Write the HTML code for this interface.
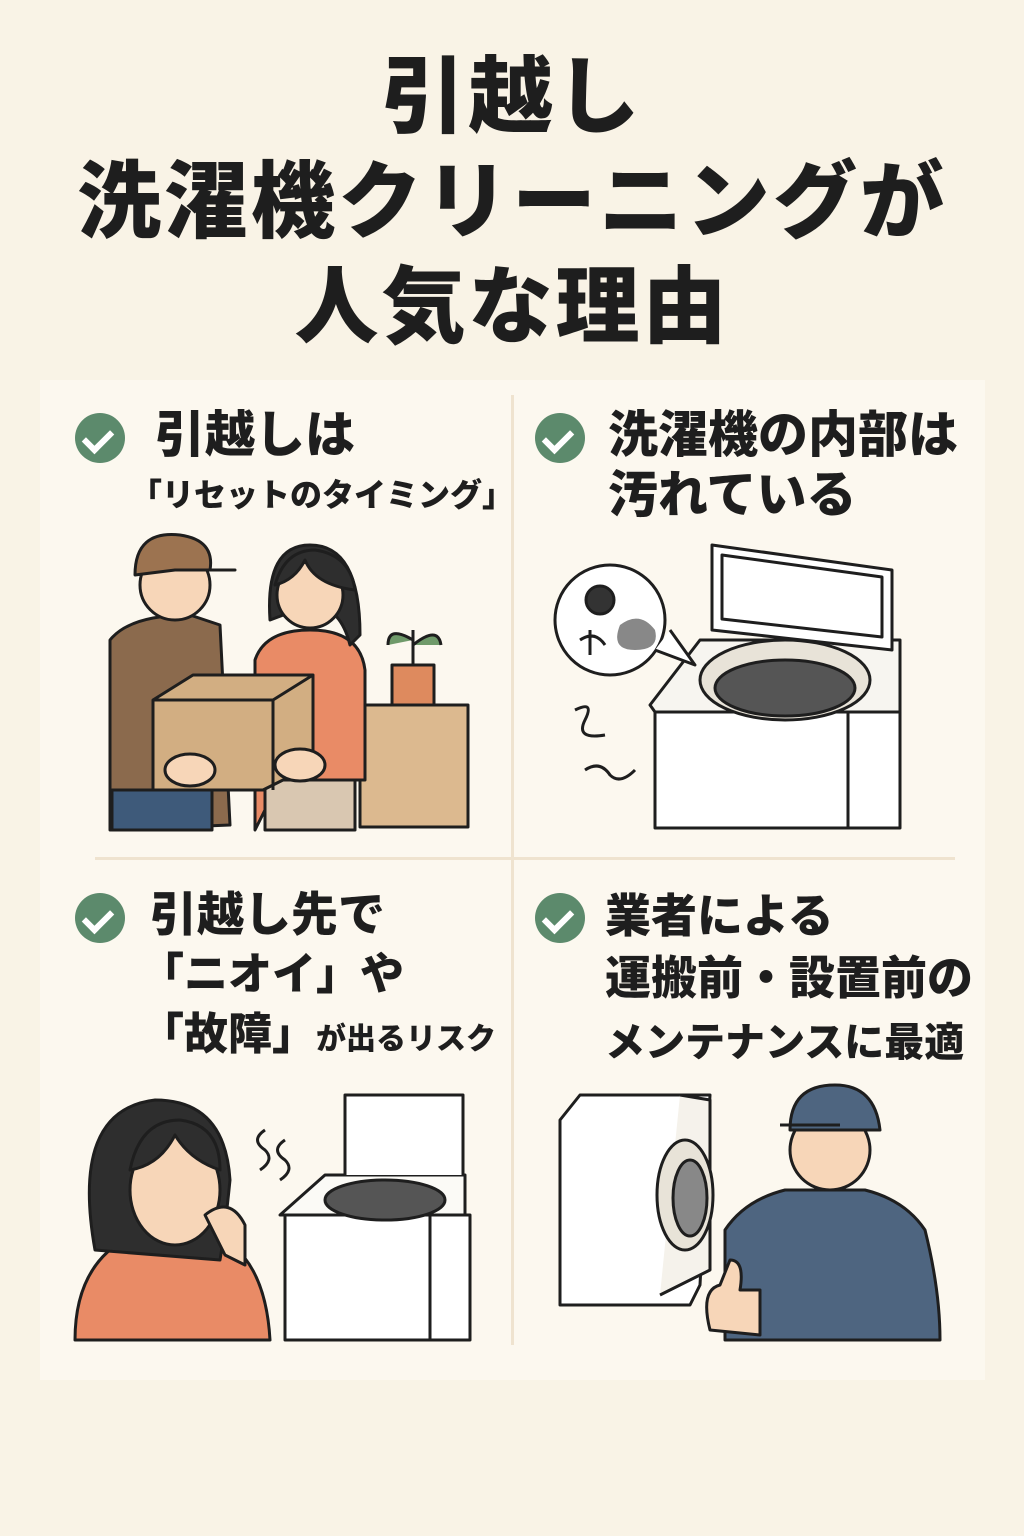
<!DOCTYPE html>
<html><head><meta charset="utf-8"><style>
html,body{margin:0;padding:0}
body{width:1024px;height:1536px;background:#f9f3e6;position:relative;overflow:hidden;font-family:"Liberation Sans","Noto Sans CJK JP",sans-serif;color:#1e1e1e}
.t{position:absolute;left:0;width:1024px;text-align:center;font-weight:900;font-size:84px;line-height:1;letter-spacing:3px}
.panel{position:absolute;left:40px;top:380px;width:945px;height:1000px;background:#fcf8ef}
.h{position:absolute;font-weight:900;font-size:50px;line-height:60px;white-space:nowrap}
.s{font-size:32px}
.ck{position:absolute;width:50px;height:50px;border-radius:50%;background:#5c8a6c}
.ck:after{content:"";position:absolute;left:14px;top:11px;width:12px;height:22px;border:solid #fff;border-width:0 6px 6px 0;transform:rotate(45deg)}
svg{position:absolute}
</style></head><body>
<div class="t" style="top:55px">引越し</div>
<div class="t" style="top:160px">洗濯機クリーニングが</div>
<div class="t" style="top:265px">人気な理由</div>
<div class="panel"></div>
<div style="position:absolute;left:511px;top:395px;width:3px;height:950px;background:#efe3cf"></div>
<div style="position:absolute;left:95px;top:857px;width:860px;height:3px;background:#efe3cf"></div>

<div class="ck" style="left:75px;top:413px"></div>
<div class="h" style="left:155px;top:405px">引越しは</div>
<div class="h s" style="left:130px;top:465px">「リセットのタイミング」</div>
<div class="ck" style="left:535px;top:413px"></div>
<div class="h" style="left:608px;top:405px">洗濯機の内部は<br>汚れている</div>
<div class="ck" style="left:75px;top:893px"></div>
<div class="h" style="left:150px;top:885px;font-size:47px">引越し先で</div>
<div class="h" style="left:140px;top:945px;font-size:44px">「ニオイ」や</div>
<div class="h" style="left:140px;top:1005px;font-size:44px">「故障」<span style="font-size:30px">が出るリスク</span></div>
<div class="ck" style="left:535px;top:893px"></div>
<div class="h" style="left:605px;top:885px;line-height:62px;font-size:46px">業者による<br>運搬前・設置前の<br><span style="font-size:40px">メンテナンスに最適</span></div>

<svg width="1024" height="1536" viewBox="0 0 1024 1536" style="left:0;top:0" stroke="#1e1e1e" stroke-width="3" stroke-linejoin="round">
<rect x="360" y="705" width="108" height="122" fill="#dcb98f"/>
<rect x="392" y="665" width="42" height="40" fill="#de8a5e"/>
<path d="M413 665 V630 M413 640 q-25 -15 -25 5 M413 645 q25 -20 28 0" fill="#6f9a6a"/>
<path d="M110 830 V640 q20 -25 80 -25 l30 10 l10 200z" fill="#8b6a4d"/>
<rect x="112" y="790" width="100" height="40" fill="#3e5a7a"/>
<circle cx="175" cy="585" r="35" fill="#f7d6b8"/>
<path d="M135 575 q0 -45 45 -40 q35 5 30 35 h25 l-60 0z" fill="#9c7350"/>
<path d="M255 830 V660 q10 -30 55 -30 q50 0 55 40 V780 H280z" fill="#e98b66"/>
<rect x="265" y="780" width="90" height="50" fill="#d9c7b1"/>
<path d="M270 620 q-5 -75 40 -75 q50 0 50 90 l-10 10 q-10 -40 -40 -40 z" fill="#2e2e2e"/>
<circle cx="310" cy="595" r="33" fill="#f7d6b8"/>
<path d="M275 585 q10 -35 40 -35 q35 5 40 40 q-40 -5 -50 -30 q-10 20 -30 25z" fill="#2e2e2e"/>
<path d="M153 700 l40 -25 h120 v90 l-50 25 h-110z" fill="#d2ae82"/>
<path d="M153 700 h120 l40 -25 M273 700 v90" fill="none"/>
<ellipse cx="190" cy="770" rx="25" ry="16" fill="#f7d6b8"/>
<ellipse cx="300" cy="765" rx="25" ry="16" fill="#f7d6b8"/>
<path d="M655 712 V828 H900 V712z" fill="#fff"/>
<path d="M848 712 V828" fill="none"/>
<path d="M650 705 l50 -65 h200 v72 H655z" fill="#f7f5f0"/>
<ellipse cx="785" cy="680" rx="85" ry="40" fill="#e8e3d8"/>
<ellipse cx="785" cy="688" rx="70" ry="28" fill="#555"/>
<path d="M712 545 l180 25 v80 l-180 -20z" fill="#fff"/>
<path d="M722 555 l160 22 v60 l-160 -18z" fill="none"/>
<circle cx="610" cy="620" r="55" fill="#fff"/>
<path d="M655 650 l40 15 l-25 -35" fill="#fff"/>
<circle cx="600" cy="600" r="14" fill="#333"/><path d="M620 625 q20 -15 35 5 q5 20 -20 20 q-25 0 -15 -25z" fill="#888" stroke="none"/>
<path d="M580 640 q15 -10 25 5 M590 630 v25" fill="none"/>
<path d="M575 710 q20 -10 10 10 q-10 20 20 15 M585 770 q15 -10 25 5 q10 10 25 -5" fill="none"/>
<path d="M285 1215 V1340 H470 V1215z" fill="#fff"/>
<path d="M430 1215 V1340" fill="none"/>
<path d="M280 1215 l45 -40 h140 v40z" fill="#fbfaf6"/>
<ellipse cx="385" cy="1200" rx="60" ry="20" fill="#555"/>
<path d="M345 1175 V1095 h118 v80" fill="#fff"/>
<path d="M75 1340 q0 -85 70 -110 h60 q60 20 65 110z" fill="#e98b66"/>
<path d="M95 1250 q-25 -140 60 -150 q70 0 75 80 q-5 50 -10 80 z" fill="#2e2e2e"/>
<ellipse cx="175" cy="1190" rx="45" ry="55" fill="#f7d6b8"/>
<path d="M130 1170 q10 -50 50 -50 q40 5 40 50 q-30 -10 -45 -35 q-15 30 -45 35z" fill="#2e2e2e"/>
<path d="M205 1215 q25 -20 40 10 v40 l-20 -10z" fill="#f7d6b8"/>
<path d="M265 1130 q-15 10 0 20 q10 10 -5 20 M285 1140 q-15 10 0 20 q10 10 -5 20" fill="none"/>
<path d="M560 1120 l20 -25 h130 l-10 190 l-10 20 H560z" fill="#fff"/>
<path d="M660 1295 l50 -25 v-170 l-30 -5" fill="#f5f2eb"/>
<ellipse cx="685" cy="1195" rx="28" ry="55" fill="#e8e3d8"/>
<ellipse cx="690" cy="1198" rx="17" ry="38" fill="#888"/>
<path d="M725 1340 v-110 q20 -30 60 -40 h80 q40 10 60 40 q15 60 15 110z" fill="#4e6580"/>
<circle cx="830" cy="1150" r="40" fill="#f7d6b8"/>
<path d="M790 1130 q0 -45 45 -45 q40 0 45 45z" fill="#4e6580"/>
<path d="M780 1125 h60" fill="none"/>
<path d="M710 1330 q-10 -40 10 -45 l10 -25 q15 0 10 30 h20 v45z" fill="#f7d6b8"/>
</svg>
</body></html>
